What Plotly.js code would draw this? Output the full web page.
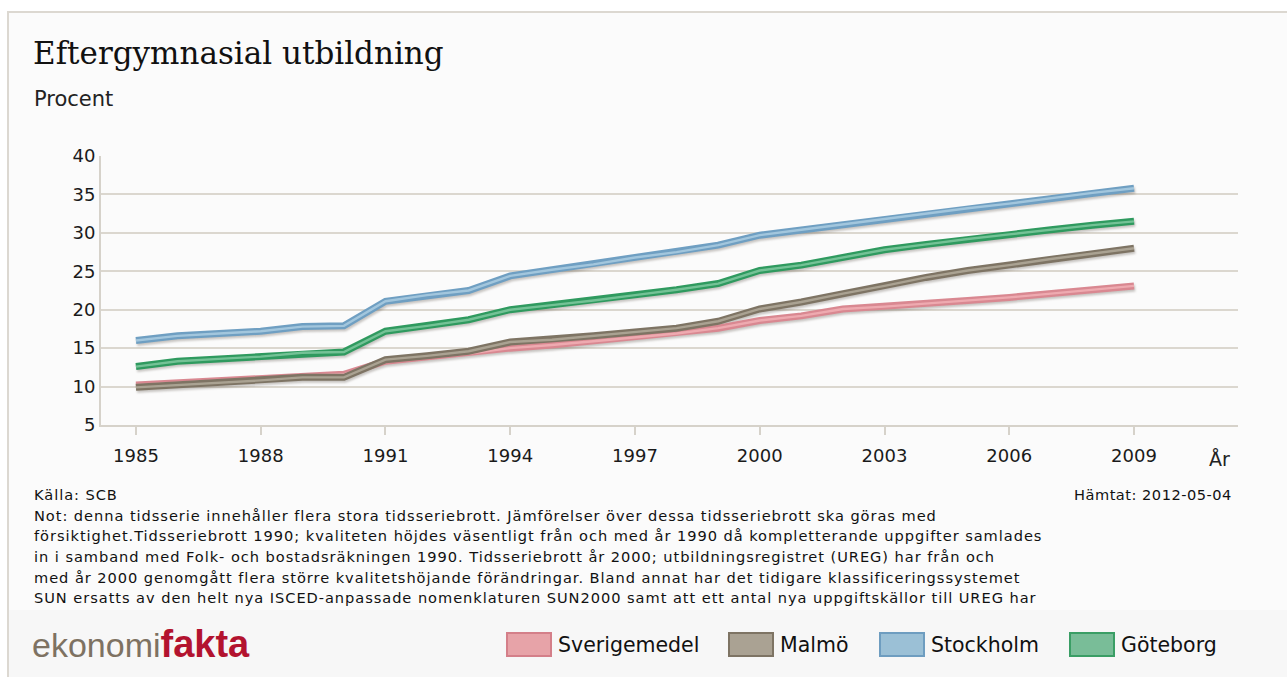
<!DOCTYPE html>
<html>
<head>
<meta charset="utf-8">
<script src="https://cdn.plot.ly/plotly-3.0.1.min.js"></script>
<style>
html,body{margin:0;padding:0;background:#ffffff;}
#chart{width:1287px;height:677px;}
.scatterlayer{filter:drop-shadow(1.5px 2px 1.2px rgba(60,50,40,0.28));}
</style>
</head>
<body>
<div id="chart"></div>
<script>
// ---- data ----
const years = [1985,1986,1987,1988,1989,1990,1991,1992,1993,1994,1995,1996,1997,1998,1999,2000,2001,2002,2003,2004,2005,2006,2007,2008,2009];
const sverigemedel = [10.2,10.5,10.8,11.0,11.4,11.6,13.3,13.9,14.3,15.0,15.4,15.9,16.4,16.9,17.6,18.6,19.2,20.1,20.4,20.8,21.2,21.6,22.1,22.6,23.1];
const malmo        = [9.9,10.2,10.5,10.8,11.2,11.2,13.5,14.0,14.6,15.8,16.1,16.6,17.1,17.6,18.5,20.1,21.0,22.1,23.1,24.2,25.1,25.8,26.6,27.3,28.0];
const stockholm    = [16.0,16.6,16.9,17.2,17.8,17.9,21.1,21.9,22.5,24.4,25.2,25.9,26.8,27.5,28.4,29.7,30.4,31.1,31.8,32.5,33.2,33.8,34.5,35.2,35.8];
const goteborg     = [12.6,13.3,13.6,13.9,14.4,14.5,17.2,17.9,18.7,20.0,20.6,21.2,21.9,22.6,23.4,25.1,25.8,26.8,27.8,28.5,29.2,29.8,30.4,31.0,31.5];
const seriesNames = ["Sverigemedel","Malmö","Stockholm","Göteborg"];
const xTickVals = [1985,1988,1991,1994,1997,2000,2003,2006,2009];
const yTickVals = [5,10,15,20,25,30,35,40];
const titleText = "Eftergymnasial utbildning";
const unitText = "Procent";
const axisLabelX = "År";
const sourceText = "Källa: SCB";
const fetchedText = "Hämtat: 2012-05-04";
const noteLines = [
 "Not: denna tidsserie innehåller flera stora tidsseriebrott. Jämförelser över dessa tidsseriebrott ska göras med",
 "försiktighet.Tidsseriebrott 1990; kvaliteten höjdes väsentligt från och med år 1990 då kompletterande uppgifter samlades",
 "in i samband med Folk- och bostadsräkningen 1990. Tidsseriebrott år 2000; utbildningsregistret (UREG) har från och",
 "med år 2000 genomgått flera större kvalitetshöjande förändringar. Bland annat har det tidigare klassificeringssystemet",
 "SUN ersatts av den helt nya ISCED-anpassade nomenklaturen SUN2000 samt att ett antal nya uppgiftskällor till UREG har"
];

// ---- styles ----
const outerColors = ["#d98891","#7e7464","#6f9fc2","#2f9a5f"];
const innerColors = ["#eeaab0","#aaa292","#a2c6dd","#74c296"];
const swatchFill  = ["#e7a3a8","#aaa293","#9bc0d6","#79bd98"];
const swatchLine  = ["#d47f89","#7e7464","#6e9dc0","#3a9e65"];
const allSeries = [sverigemedel, malmo, stockholm, goteborg];

// plot area in pixels
const L = 101, R = 1238, T = 156, B = 425;
const px = x => (x - L) / (R - L);
const py = y => (B - y) / (B - T);

const traces = [];
allSeries.forEach((s, i) => {
  traces.push({x: years, y: s, type: "scatter", mode: "lines", name: seriesNames[i],
    line: {color: outerColors[i], width: 7}, hoverinfo: "skip", showlegend: false});
  traces.push({x: years, y: s, type: "scatter", mode: "lines", name: seriesNames[i],
    line: {color: innerColors[i], width: 2.4}, showlegend: false});
});

const sans = "DejaVu Sans, Verdana, sans-serif";
const annotations = [];
const shapes = [];

// title and unit
annotations.push({xref:"paper", yref:"paper", x:px(31), y:py(53), xanchor:"left", yanchor:"middle",
  text:titleText, showarrow:false, font:{family:"DejaVu Serif, Georgia, serif", size:31, color:"#111"}});
annotations.push({xref:"paper", yref:"paper", x:px(32), y:py(99), xanchor:"left", yanchor:"middle",
  text:unitText, showarrow:false, font:{family:sans, size:21, color:"#222"}});
annotations.push({xref:"paper", yref:"paper", x:px(1207), y:py(459), xanchor:"left", yanchor:"middle",
  text:axisLabelX, showarrow:false, font:{family:sans, size:19, color:"#222"}});

// source / notes
const noteSize = 14.6;
const sp = t => '<span style="letter-spacing:0.95px">' + t + '</span>';
annotations.push({xref:"paper", yref:"paper", x:px(32), y:py(494), xanchor:"left", yanchor:"middle",
  text:sp(sourceText), showarrow:false, font:{family:sans, size:noteSize, color:"#111"}});
annotations.push({xref:"paper", yref:"paper", x:px(1234), y:py(494), xanchor:"right", yanchor:"middle",
  text:'<span style="letter-spacing:0.5px">' + fetchedText + '</span>', showarrow:false, font:{family:sans, size:noteSize, color:"#111"}});
noteLines.forEach((t, k) => {
  annotations.push({xref:"paper", yref:"paper", x:px(32), y:py(515 + k*20.7), xanchor:"left", yanchor:"middle",
    text:sp(t), showarrow:false, font:{family:sans, size:noteSize, color:"#111"}});
});

// logo
annotations.push({xref:"paper", yref:"paper", x:px(30), y:py(644), xanchor:"left", yanchor:"middle",
  text:'<span style="color:#7e7262;font-size:34px">ekonomi</span><span style="color:#b3132f;font-size:38px"><b>fakta</b></span>',
  showarrow:false, font:{family:"Liberation Sans, Arial, sans-serif", size:34}});

// legend
const legendX = [507, 729, 880, 1070];
seriesNames.forEach((n, i) => {
  shapes.push({type:"rect", xref:"paper", yref:"paper", layer:"above",
    x0:px(legendX[i]), x1:px(legendX[i]+44), y0:py(656), y1:py(633),
    fillcolor:swatchFill[i], line:{color:swatchLine[i], width:2}});
  annotations.push({xref:"paper", yref:"paper", x:px(legendX[i]+49), y:py(645), xanchor:"left", yanchor:"middle",
    text:n, showarrow:false, font:{family:sans, size:20.5, color:"#111"}});
});

// background frame
shapes.push({type:"rect", xref:"paper", yref:"paper", layer:"below",
  x0:px(8), x1:px(1300), y0:py(12), y1:py(700), fillcolor:"#fbfbfb", line:{color:"#dcd8d1", width:2}});
shapes.push({type:"rect", xref:"paper", yref:"paper", layer:"below",
  x0:px(9), x1:px(1300), y0:py(610), y1:py(700), fillcolor:"#f7f7f7", line:{width:0}});

const layout = {
  width:1287, height:677,
  margin:{l:L, r:1287-R, t:T, b:677-B},
  paper_bgcolor:"#ffffff", plot_bgcolor:"rgba(0,0,0,0)",
  showlegend:false,
  xaxis:{range:[1984.16, 2011.5], tickvals:xTickVals, ticks:"outside", ticklen:8, tickwidth:2, tickcolor:"#d6d2ca",
    showline:true, linecolor:"#d6d2ca", linewidth:2, showgrid:false, zeroline:false,
    tickfont:{family:sans, size:18, color:"#1a1a1a"}, ticklabelstandoff:5},
  yaxis:{range:[5,40], tickvals:yTickVals, ticks:"", showline:true, linecolor:"#d6d2ca", linewidth:2,
    gridcolor:"#dbd7cf", gridwidth:2, zeroline:false,
    tickfont:{family:sans, size:18, color:"#1a1a1a"}, ticklabelstandoff:0},
  annotations:annotations, shapes:shapes
};

Plotly.newPlot("chart", traces, layout, {displayModeBar:false, staticPlot:true});
</script>
</body>
</html>
